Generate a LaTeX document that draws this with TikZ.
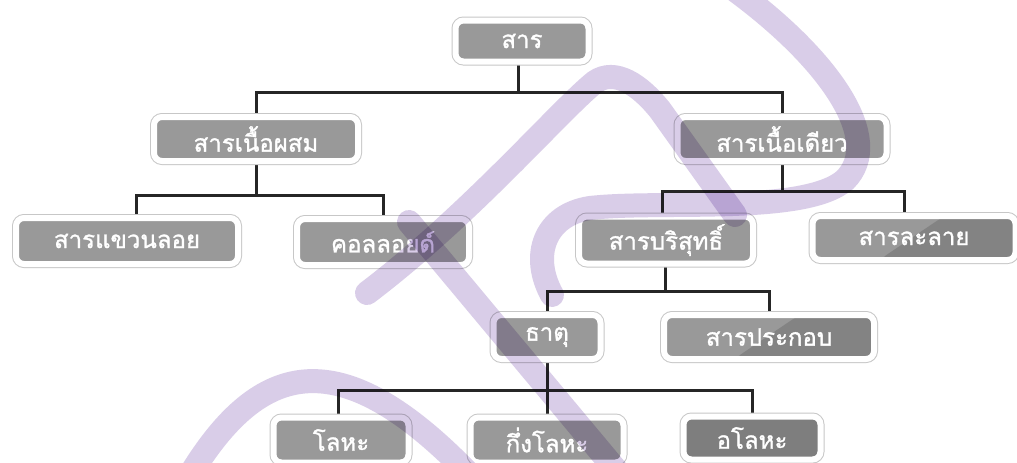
\documentclass[tikz,border=0pt]{standalone}
\usepackage{fontspec}
\newfontfamily\thaifont[Script=Thai, FakeBold=1.3]{Loma}
\usetikzlibrary{positioning}
\definecolor{boxgray}{HTML}{999999}
\definecolor{boxdark}{HTML}{7E7E7E}
\definecolor{linegray}{HTML}{262626}
\definecolor{markpurple}{HTML}{D9CDE8}
\pgfdeclarelayer{bg}
\pgfdeclarelayer{edges}
\pgfsetlayers{bg,edges,main}

\begin{document}
\begin{tikzpicture}[x=1pt, y=-1pt,
    box/.style={rectangle, rounded corners=8pt, fill=boxgray, draw=white, line width=6pt,
      preaction={fill=black!18, transform canvas={shift={(2pt,-3pt)}}},
      preaction={draw=black!22, line width=8pt},
      text=white, font=\thaifont\fontsize{24}{26}\selectfont, inner sep=0pt},
    gloss/.style={path picture={\fill[black, opacity=0.14]
      ([xshift=-35pt]path picture bounding box.south) -- ([xshift=30pt]path picture bounding box.north)
      -| (path picture bounding box.south east) -- cycle;}},
    conn/.style={draw=linegray, line width=3pt},
    wmark/.style={draw=markpurple, line width=24pt, line cap=round}]
    \useasboundingbox (0,0) rectangle (1017,463);
    \begin{pgfonlayer}{bg}
        \fill[white] (0,0) rectangle (1017,463);
    \end{pgfonlayer}

    % Nodes
    \node[box, minimum width=133pt, minimum height=41pt] (root) at (522,41) {สาร};
    \node[box, minimum width=204pt, minimum height=44pt] (mixed) at (256,139) {สารเนื้อผสม};
    \node[box, minimum width=209pt, minimum height=44pt] (pure) at (782,139) {สารเนื้อเดียว};
    \node[box, minimum width=222pt, minimum height=46pt] (susp) at (127,241) {สารแขวนลอย};
    \node[box, minimum width=172pt, minimum height=46pt] (colloid) at (383,242) {คอลลอยด์};
    \node[box, minimum width=174pt, minimum height=47pt] (subst) at (666,240) {สารบริสุทธิ์};
    \node[box, gloss, minimum width=203pt, minimum height=44pt] (soln) at (914,238) {สารละลาย};
    \node[box, minimum width=107pt, minimum height=44pt] (elem) at (547,337) {ธาตุ};
    \node[box, gloss, minimum width=210pt, minimum height=44pt] (compd) at (769,337) {สารประกอบ};
    \node[box, minimum width=135pt, minimum height=45pt] (metal) at (341,440) {โลหะ};
    \node[box, minimum width=153pt, minimum height=45pt] (semimetal) at (547,440) {กึ่งโลหะ};
    \node[box, fill=boxdark, minimum width=137pt, minimum height=43pt] (nonmetal) at (752,438) {อโลหะ};

    % Edges
    \begin{pgfonlayer}{edges}
        \draw[conn] ([xshift=-4pt]root.south) -- ++(0,28) -| (mixed.north);
        \draw[conn] ([xshift=-4pt]root.south) -- ++(0,28) -| (pure.north);
        \draw[conn] (mixed.south) -- ++(0,31) -| ([xshift=9pt]susp.north);
        \draw[conn] (mixed.south) -- ++(0,31) -| (colloid.north);
        \draw[conn] (pure.south) -- ++(0,27) -| ([xshift=-4pt]subst.north);
        \draw[conn] (pure.south) -- ++(0,27) -| ([xshift=-10pt]soln.north);
        \draw[conn] ([xshift=-1pt]subst.south) -- ++(0,25) -| (elem.north);
        \draw[conn] ([xshift=-1pt]subst.south) -- ++(0,25) -| (compd.north);
        \draw[conn] (elem.south) -- ++(0,28) -| ([xshift=-3pt]metal.north);
        \draw[conn] (elem.south) -- ++(0,28) -| (semimetal.north);
        \draw[conn] (elem.south) -- ++(0,28) -| (nonmetal.north);
    \end{pgfonlayer}

    % watermark
    \begin{scope}[blend mode=multiply]
        \draw[wmark] (735,-10) .. controls (830,60) and (885,140) .. (845,180)
            .. controls (805,215) and (660,200) .. (590,208)
            .. controls (545,215) and (530,255) .. (552,295);
        \draw[wmark] (367,293) .. controls (470,215) and (560,110) .. (595,82)
            .. controls (615,68) and (640,85) .. (660,110) -- (735,215);
        \draw[wmark] (409,222) -- (616,470);
        \draw[wmark] (190,475) .. controls (260,360) and (340,340) .. (470,475);
    \end{scope}
\end{tikzpicture}
\end{document}
